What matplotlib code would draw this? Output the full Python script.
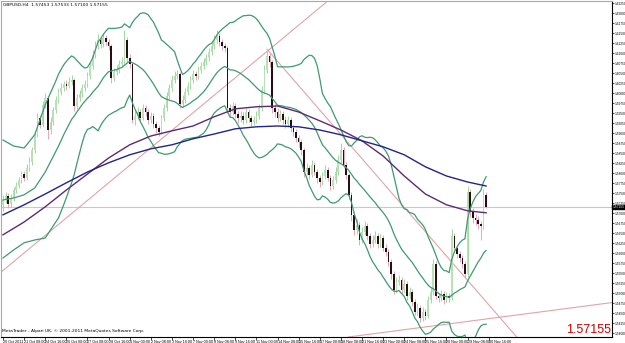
import matplotlib
matplotlib.use("Agg")
import matplotlib.pyplot as plt
import numpy as np
import pandas as pd

BULL_BODY = "#b6e2b6"
BULL_WICK = "#a3d6a3"
BEAR_BODY = "#2a0d12"
BEAR_WICK = "#e2a9b8"
BAND_COLOR = "#3f9a6f"
MA_FAST_COLOR = "#5e2a72"
MA_SLOW_COLOR = "#23238c"
TREND_COLOR = "#e0a4aa"

symbol_text = "GBPUSD,H4  1.57453 1.57533 1.57100 1.57155"
footer_text = "MetaTrader - Alpari UK, \u00a9 2001-2011 MetaQuotes Software Corp."
last_price = 1.57155
first_open = 1.5720

closes = [
    1.5733, 1.5743, 1.5723, 1.5738, 1.5758, 1.5768, 1.5783, 1.5798, 1.5788, 1.5813,
    1.5828, 1.5858, 1.5896, 1.5938, 1.5921, 1.5971, 1.5988, 1.5908, 1.5928, 1.5958,
    1.5983, 1.6003, 1.6013, 1.6023, 1.6018, 1.6028, 1.6033, 1.5968, 1.5988, 1.5998,
    1.6013, 1.6023, 1.6043, 1.6068, 1.6096, 1.6118, 1.6133, 1.6123, 1.6138, 1.6128,
    1.6118, 1.6038, 1.6053, 1.6058, 1.6073, 1.6078, 1.6133, 1.6088, 1.6073, 1.5933,
    1.5943, 1.5953, 1.5938, 1.5963, 1.5953, 1.5933, 1.5943, 1.5923, 1.5913, 1.5903,
    1.5938, 1.5963, 1.5993, 1.6013, 1.6033, 1.6043, 1.6048, 1.5973, 1.5983, 1.6003,
    1.6018, 1.6033, 1.6048, 1.6043, 1.6058, 1.6068, 1.6078, 1.6088, 1.6103, 1.6118,
    1.6133, 1.6143, 1.6128, 1.6118, 1.6113, 1.5963, 1.5953, 1.5968, 1.5948, 1.5938,
    1.5943, 1.5933, 1.5953, 1.5938, 1.5928, 1.5933, 1.5943, 1.5963, 1.6008, 1.6058,
    1.6093, 1.6078, 1.5963, 1.5953, 1.5938, 1.5948, 1.5933, 1.5923, 1.5933, 1.5913,
    1.5903, 1.5888, 1.5878, 1.5858, 1.5803, 1.5813, 1.5796, 1.5821, 1.5803, 1.5788,
    1.5778, 1.5793, 1.5808, 1.5788, 1.5768, 1.5783, 1.5803, 1.5833, 1.5858, 1.5821,
    1.5796, 1.5746, 1.5696, 1.5658, 1.5671, 1.5633, 1.5653, 1.5668, 1.5643, 1.5623,
    1.5633, 1.5643, 1.5623, 1.5638, 1.5613, 1.5603, 1.5578, 1.5548, 1.5508, 1.5528,
    1.5533, 1.5508, 1.5523, 1.5493, 1.5503, 1.5478, 1.5453, 1.5463, 1.5438, 1.5453,
    1.5443, 1.5483, 1.5503, 1.5573, 1.5493, 1.5488, 1.5498, 1.5483, 1.5493, 1.5488,
    1.5643, 1.5613, 1.5598, 1.5588, 1.5573, 1.5548, 1.5753, 1.5703, 1.5688, 1.5683,
    1.5673, 1.5668, 1.5746, 1.57155,
]
highs = [
    1.5745, 1.5752, 1.5750, 1.5748, 1.5766, 1.5778, 1.5790, 1.5806, 1.5805, 1.5822,
    1.5840, 1.5866, 1.5905, 1.5950, 1.5946, 1.5980, 1.6000, 1.5992, 1.5940, 1.5965,
    1.5992, 1.6012, 1.6025, 1.6030, 1.6032, 1.6040, 1.6045, 1.6038, 1.5998, 1.6008,
    1.6022, 1.6032, 1.6052, 1.6078, 1.6108, 1.6130, 1.6148, 1.6140, 1.6150, 1.6145,
    1.6136, 1.6122, 1.6062, 1.6070, 1.6082, 1.6090, 1.6158, 1.6140, 1.6098, 1.6078,
    1.5955, 1.5965, 1.5960, 1.5972, 1.5970, 1.5960, 1.5952, 1.5950, 1.5930, 1.5920,
    1.5945, 1.5972, 1.6002, 1.6022, 1.6045, 1.6055, 1.6058, 1.6052, 1.5995, 1.6012,
    1.6028, 1.6042, 1.6058, 1.6056, 1.6068, 1.6078, 1.6088, 1.6098, 1.6113, 1.6128,
    1.6145, 1.6158, 1.6150, 1.6135, 1.6126, 1.6118, 1.5972, 1.5978, 1.5975, 1.5955,
    1.5955, 1.5952, 1.5962, 1.5960, 1.5945, 1.5942, 1.5955, 1.5972, 1.6018, 1.6070,
    1.6110, 1.6100, 1.6082, 1.5972, 1.5962, 1.5958, 1.5955, 1.5942, 1.5942, 1.5940,
    1.5920, 1.5910, 1.5895, 1.5885, 1.5862, 1.5825, 1.5820, 1.5832, 1.5828, 1.5810,
    1.5795, 1.5802, 1.5820, 1.5815, 1.5795, 1.5792, 1.5815, 1.5845, 1.5875, 1.5865,
    1.5828, 1.5800, 1.5752, 1.5705, 1.5685, 1.5678, 1.5665, 1.5680, 1.5675, 1.5650,
    1.5645, 1.5655, 1.5650, 1.5648, 1.5645, 1.5622, 1.5610, 1.5585, 1.5555, 1.5540,
    1.5545, 1.5540, 1.5535, 1.5530, 1.5515, 1.5510, 1.5485, 1.5475, 1.5470, 1.5465,
    1.5460, 1.5492, 1.5515, 1.5585, 1.5580, 1.5500, 1.5508, 1.5505, 1.5502, 1.5500,
    1.5660, 1.5650, 1.5620, 1.5605, 1.5595, 1.5580, 1.5768, 1.5760, 1.5712, 1.5698,
    1.5692, 1.5680, 1.5760, 1.5752,
]
lows = [
    1.5705, 1.5725, 1.5712, 1.5715, 1.5730, 1.5750, 1.5762, 1.5776, 1.5780, 1.5782,
    1.5805, 1.5820, 1.5850, 1.5890, 1.5912, 1.5915, 1.5962, 1.5885, 1.5898, 1.5920,
    1.5950, 1.5975, 1.5996, 1.6005, 1.6008, 1.6012, 1.6020, 1.5955, 1.5960, 1.5980,
    1.5990, 1.6005, 1.6015, 1.6035, 1.6060, 1.6088, 1.6110, 1.6112, 1.6115, 1.6120,
    1.6108, 1.6025, 1.6030, 1.6045, 1.6050, 1.6066, 1.6072, 1.6078, 1.6062, 1.5925,
    1.5920, 1.5935, 1.5928, 1.5932, 1.5942, 1.5922, 1.5925, 1.5912, 1.5900, 1.5893,
    1.5898, 1.5930, 1.5955, 1.5985, 1.6005, 1.6025, 1.6035, 1.5962, 1.5965, 1.5975,
    1.5995, 1.6010, 1.6026, 1.6032, 1.6035, 1.6050, 1.6060, 1.6070, 1.6080, 1.6095,
    1.6110, 1.6125, 1.6118, 1.6108, 1.6102, 1.5950, 1.5940, 1.5945, 1.5938, 1.5925,
    1.5928, 1.5922, 1.5925, 1.5928, 1.5918, 1.5920, 1.5925, 1.5935, 1.5955, 1.6000,
    1.6050, 1.6065, 1.5950, 1.5940, 1.5928, 1.5930, 1.5922, 1.5912, 1.5915, 1.5902,
    1.5892, 1.5878, 1.5865, 1.5845, 1.5790, 1.5795, 1.5785, 1.5790, 1.5795, 1.5775,
    1.5765, 1.5770, 1.5785, 1.5780, 1.5758, 1.5760, 1.5775, 1.5795, 1.5825, 1.5812,
    1.5785, 1.5735, 1.5680, 1.5645, 1.5648, 1.5620, 1.5625, 1.5645, 1.5632, 1.5612,
    1.5615, 1.5625, 1.5612, 1.5615, 1.5605, 1.5592, 1.5568, 1.5535, 1.5498, 1.5500,
    1.5520, 1.5498, 1.5500, 1.5482, 1.5485, 1.5468, 1.5445, 1.5445, 1.5428, 1.5430,
    1.5432, 1.5438, 1.5475, 1.5495, 1.5485, 1.5478, 1.5480, 1.5472, 1.5478, 1.5478,
    1.5482, 1.5602, 1.5588, 1.5578, 1.5562, 1.5538, 1.5540, 1.5690, 1.5675, 1.5670,
    1.5660, 1.5633, 1.5660, 1.5712,
]

# bollinger values at the left edge, before 20 bars of history exist
band_head_bars = [0, 4, 8, 12, 16]
band_head_upper = [1.5883, 1.5868, 1.5863, 1.5896, 1.5971]
band_head_mid = [1.5733, 1.5738, 1.5746, 1.5763, 1.5803]
band_head_lower = [1.5588, 1.5608, 1.5626, 1.5633, 1.5638]

# moving averages, one value every 8 bars
ma_bars = [0, 8, 16, 24, 32, 40, 48, 56, 64, 72, 80, 88, 96, 104, 112, 120,
           128, 136, 144, 152, 160, 168, 176, 183]
ma_fast = [1.5646, 1.5678, 1.5716, 1.5758, 1.5798, 1.5838, 1.5871, 1.5893,
           1.5906, 1.5918, 1.5941, 1.5961, 1.5966, 1.5968, 1.5953, 1.5931,
           1.5908, 1.5881, 1.5843, 1.5793, 1.5748, 1.5721, 1.5706, 1.5701]
ma_slow = [1.5696, 1.5721, 1.5748, 1.5776, 1.5803, 1.5826, 1.5846, 1.5861,
           1.5871, 1.5886, 1.5898, 1.5911, 1.5916, 1.5918, 1.5916, 1.5908,
           1.5896, 1.5881, 1.5866, 1.5846, 1.5816, 1.5793, 1.5778, 1.5768]

# hand drawn trend lines: two anchor points each (bar, price)
trend_up = [(55, 1.5858), (97, 1.6088)]
trend_down = [(100, 1.6110), (143, 1.5783)]
trend_low = [(131.4, 1.5391), (230.0, 1.5476)]

date_labels = [
    "20 Oct 2011", "21 Oct 08:00", "24 Oct 16:00", "26 Oct 00:00", "27 Oct 08:00",
    "28 Oct 16:00", "1 Nov 00:00", "2 Nov 08:00", "3 Nov 16:00", "7 Nov 00:00",
    "8 Nov 08:00", "9 Nov 16:00", "11 Nov 00:00", "14 Nov 08:00", "15 Nov 16:00",
    "17 Nov 00:00", "18 Nov 08:00", "21 Nov 16:00", "23 Nov 00:00", "24 Nov 08:00",
    "25 Nov 16:00", "28 Nov 00:00", "29 Nov 08:00", "30 Nov 16:00",
]

closes = np.array(closes)
highs = np.array(highs)
lows = np.array(lows)
opens = np.concatenate([[first_open], closes[:-1]])
idx = np.arange(len(closes))

s = pd.Series(closes)
mid = s.rolling(20).mean()
dev = s.rolling(20).std(ddof=0)
bands = [
    (band_head_upper, mid + 2 * dev),
    (band_head_mid, mid),
    (band_head_lower, mid - 2 * dev),
]

fig = plt.figure(figsize=(6.25, 3.43), dpi=100)
ax = fig.add_axes([1 / 625, 6 / 343, 611 / 625, 336 / 343])
ax.set_xlim(-0.76, 230.7)
ax.set_ylim(1.6233 - 337 / 4000, 1.6233 - 1 / 4000)

# current price line
ax.axhline(last_price, color="#c8c8c8", lw=0.8, zorder=1)

# trend lines
ax.axline(trend_up[0], trend_up[1], color=TREND_COLOR, lw=0.8, zorder=2)
ax.axline(trend_low[0], trend_low[1], color=TREND_COLOR, lw=0.8, zorder=2)
(x0, y0), (x1, y1) = trend_down
slope = (y1 - y0) / (x1 - x0)
ax.plot([x0, 250], [y0, y0 + slope * (250 - x0)], color=TREND_COLOR, lw=0.8, zorder=2)

# candles
bull = closes >= opens
for mask, body, wick in [(bull, BULL_BODY, BULL_WICK), (~bull, BEAR_BODY, BEAR_WICK)]:
    ax.vlines(idx[mask], lows[mask], highs[mask], color=wick, lw=0.7, zorder=3)
    bottoms = np.minimum(opens, closes)[mask]
    heights = np.maximum(np.abs(closes - opens)[mask], 0.00008)
    ax.bar(idx[mask], heights, bottom=bottoms, width=0.62, color=body,
           linewidth=0, zorder=4)

# bollinger bands
for head, tail in bands:
    xs = list(band_head_bars) + list(idx[19:])
    ys = list(head) + list(tail.values[19:])
    ax.plot(xs, ys, color=BAND_COLOR, lw=0.9, zorder=5)

# moving averages
ax.plot(ma_bars, ma_fast, color=MA_FAST_COLOR, lw=1.0, zorder=5)
ax.plot(ma_bars, ma_slow, color=MA_SLOW_COLOR, lw=1.0, zorder=5)

# axes styling
for side in ("left", "top"):
    ax.spines[side].set_color("#a8a8a8")
    ax.spines[side].set_linewidth(0.8)
for side in ("right", "bottom"):
    ax.spines[side].set_color("black")
    ax.spines[side].set_linewidth(0.8)

price_ticks = np.arange(1.5400, 1.6230, 0.0025)
ax.yaxis.tick_right()
ax.set_yticks(price_ticks)
ax.set_yticklabels([f"{p:.5f}" for p in price_ticks], family="Liberation Sans")
ax.tick_params(axis="y", labelsize=2.3, length=1.2, width=0.5, pad=0.4)

ax.set_xticks(np.arange(len(date_labels)) * 8)
ax.set_xticklabels(date_labels, ha="left", family="Liberation Sans")
ax.tick_params(axis="x", labelsize=2.7, length=2, width=0.5, pad=0.4)

ax.text(1.0015, last_price, f"{last_price:.5f}", transform=ax.get_yaxis_transform(),
        ha="left", va="center", fontsize=2.3, color="white", family="Liberation Sans",
        bbox=dict(boxstyle="square,pad=0.15", fc="black", ec="black"), zorder=10)

ax.text(0.004, 0.995, symbol_text, transform=ax.transAxes, ha="left", va="top",
        fontsize=3.2, color="black")
ax.text(0.002, 0.012, footer_text, transform=ax.transAxes, ha="left", va="bottom",
        fontsize=3.2, color="black")
ax.text(0.998, 0.004, f"{last_price:.5f}", transform=ax.transAxes, ha="right",
        va="bottom", fontsize=9, color="#cc0000", family="Liberation Sans",
        zorder=11)

fig.savefig("out.png", dpi=100)
